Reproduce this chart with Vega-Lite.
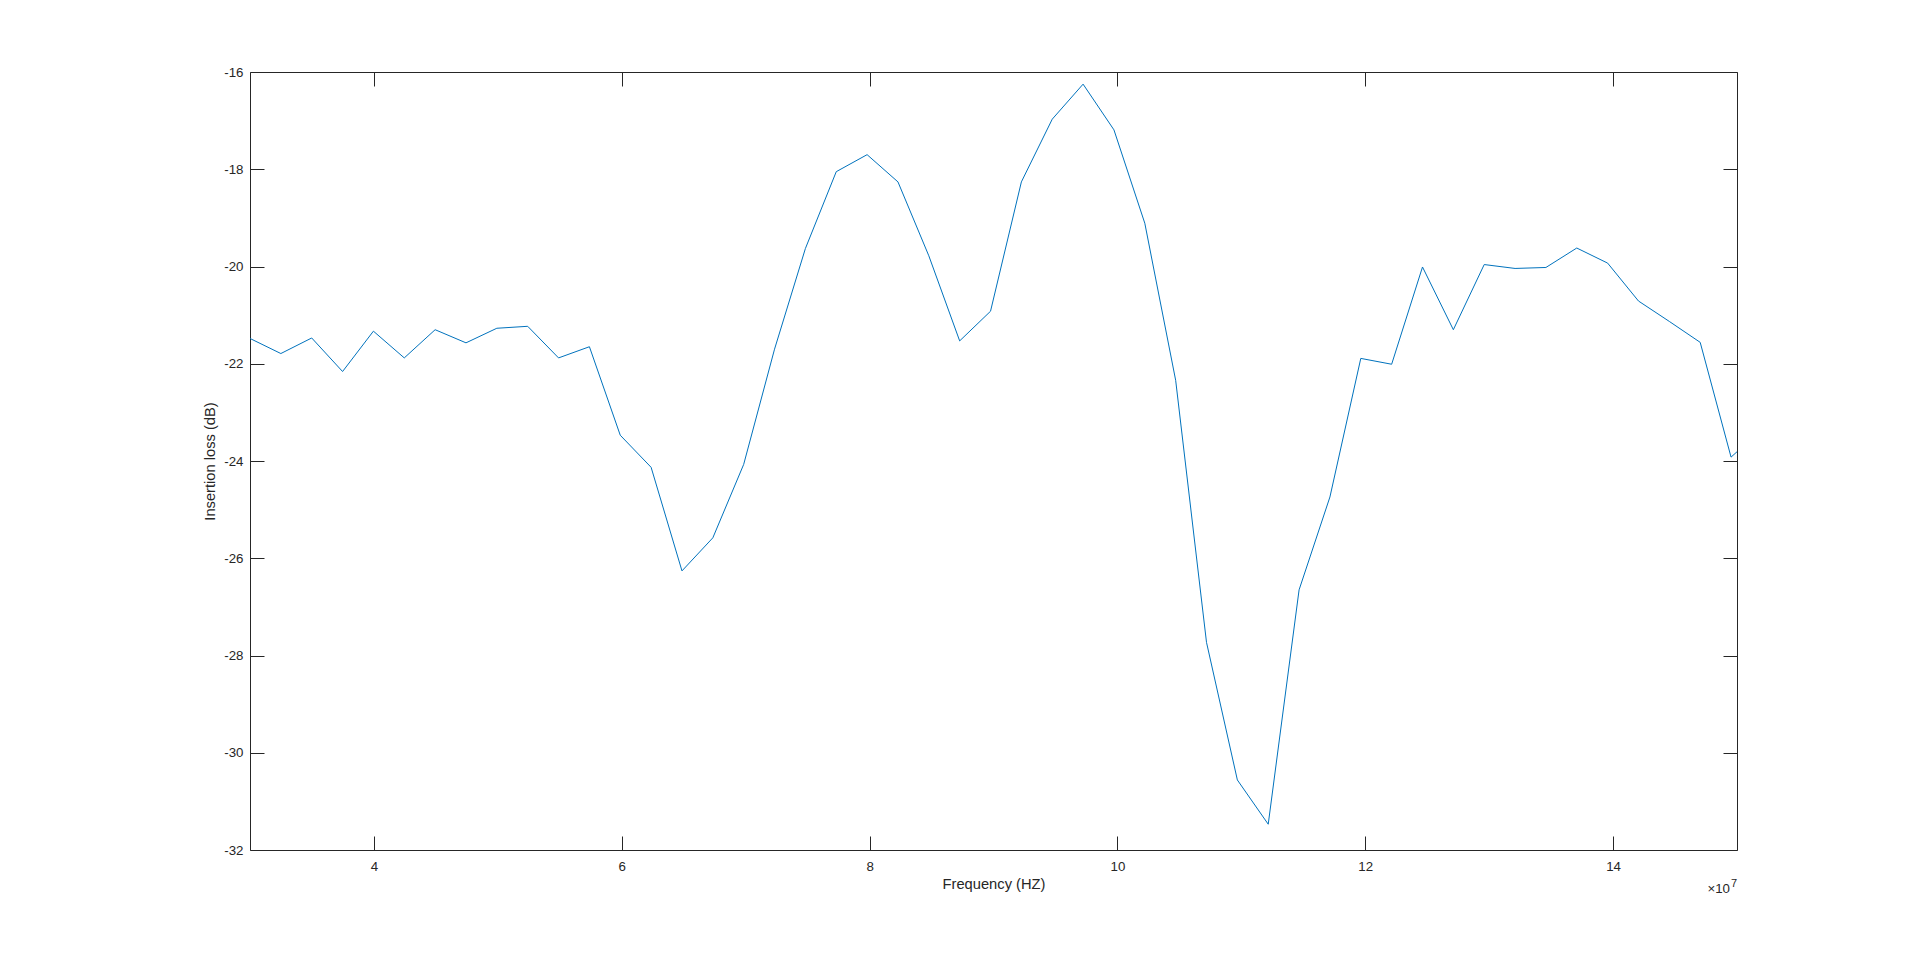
{
  "$schema": "https://vega.github.io/schema/vega-lite/v6.json",
  "autosize": "none",
  "width": 1487,
  "height": 778,
  "padding": {"left": 250, "top": 72, "right": 183, "bottom": 106},
  "background": "white",
  "config": {
    "view": {"stroke": null},
    "font": "Liberation Sans",
    "axis": {
      "grid": false,
      "domainColor": "#262626",
      "domainWidth": 1,
      "tickColor": "#262626",
      "tickWidth": 1,
      "labelColor": "#262626",
      "labelFont": "Liberation Sans",
      "labelFontSize": 13.3,
      "titleColor": "#262626",
      "titleFont": "Liberation Sans",
      "titleFontSize": 14.7,
      "titleFontWeight": "normal"
    }
  },
  "data": {
    "values": [
      {"f": 30000000, "loss": -21.48},
      {"f": 32490000, "loss": -21.79},
      {"f": 34980000, "loss": -21.47},
      {"f": 37470000, "loss": -22.16},
      {"f": 39960000, "loss": -21.33},
      {"f": 42450000, "loss": -21.88},
      {"f": 44940000, "loss": -21.30},
      {"f": 47430000, "loss": -21.57},
      {"f": 49920000, "loss": -21.27},
      {"f": 52410000, "loss": -21.23},
      {"f": 54900000, "loss": -21.88},
      {"f": 57390000, "loss": -21.65},
      {"f": 59880000, "loss": -23.47},
      {"f": 62370000, "loss": -24.13},
      {"f": 64860000, "loss": -26.26},
      {"f": 67350000, "loss": -25.58},
      {"f": 69840000, "loss": -24.07},
      {"f": 72330000, "loss": -21.70},
      {"f": 74820000, "loss": -19.63},
      {"f": 77310000, "loss": -18.05},
      {"f": 79800000, "loss": -17.70},
      {"f": 82290000, "loss": -18.26},
      {"f": 84780000, "loss": -19.78},
      {"f": 87270000, "loss": -21.53},
      {"f": 89760000, "loss": -20.92},
      {"f": 92250000, "loss": -18.26},
      {"f": 94740000, "loss": -16.97},
      {"f": 97230000, "loss": -16.25},
      {"f": 99720000, "loss": -17.19},
      {"f": 102210000, "loss": -19.11},
      {"f": 104700000, "loss": -22.34},
      {"f": 107190000, "loss": -27.73},
      {"f": 109680000, "loss": -30.56},
      {"f": 112170000, "loss": -31.47},
      {"f": 114660000, "loss": -26.65},
      {"f": 117150000, "loss": -24.74},
      {"f": 119640000, "loss": -21.89},
      {"f": 122130000, "loss": -22.01},
      {"f": 124620000, "loss": -20.01},
      {"f": 127110000, "loss": -21.30},
      {"f": 129600000, "loss": -19.96},
      {"f": 132090000, "loss": -20.04},
      {"f": 134580000, "loss": -20.02},
      {"f": 137070000, "loss": -19.62},
      {"f": 139560000, "loss": -19.93},
      {"f": 142050000, "loss": -20.71},
      {"f": 144540000, "loss": -21.13},
      {"f": 147030000, "loss": -21.56},
      {"f": 149520000, "loss": -23.92},
      {"f": 150000000, "loss": -23.81}
    ]
  },
  "resolve": {"axis": {"x": "independent", "y": "independent"}},
  "layer": [
    {
      "mark": {"type": "line", "color": "#0072BD", "strokeWidth": 1, "clip": true},
      "encoding": {
        "x": {
          "field": "f",
          "type": "quantitative",
          "scale": {"domain": [30000000, 150000000], "nice": false, "zero": false},
          "axis": {
            "orient": "bottom",
            "values": [40000000, 60000000, 80000000, 100000000, 120000000, 140000000],
            "labelExpr": "'' + round(datum.value / 10000000)",
            "tickSize": -14,
            "labelPadding": 23,
            "title": "Frequency (HZ)",
            "titlePadding": 4
          }
        },
        "y": {
          "field": "loss",
          "type": "quantitative",
          "scale": {"domain": [-32, -16], "nice": false, "zero": false},
          "axis": {
            "orient": "left",
            "values": [-32, -30, -28, -26, -24, -22, -20, -18, -16],
            "labelExpr": "'' + datum.value",
            "tickSize": -14,
            "labelPadding": 21,
            "title": "Insertion loss (dB)",
            "titlePadding": 6
          }
        }
      }
    },
    {
      "mark": {"type": "line", "opacity": 0},
      "encoding": {
        "x": {
          "field": "f",
          "type": "quantitative",
          "axis": {
            "orient": "top",
            "values": [40000000, 60000000, 80000000, 100000000, 120000000, 140000000],
            "labels": false,
            "tickSize": -14,
            "title": null
          }
        },
        "y": {
          "field": "loss",
          "type": "quantitative",
          "axis": {
            "orient": "right",
            "values": [-32, -30, -28, -26, -24, -22, -20, -18, -16],
            "labels": false,
            "tickSize": -14,
            "title": null
          }
        }
      }
    },
    {
      "data": {"values": [{"f": 150000000, "loss": -32, "t": "×10"}]},
      "mark": {"type": "text", "align": "right", "baseline": "alphabetic", "dx": -7, "dy": 43, "fontSize": 13.3, "color": "#262626", "font": "Liberation Sans"},
      "encoding": {
        "x": {"field": "f", "type": "quantitative", "axis": null},
        "y": {"field": "loss", "type": "quantitative", "axis": null},
        "text": {"field": "t"}
      }
    },
    {
      "data": {"values": [{"f": 150000000, "loss": -32, "t": "7"}]},
      "mark": {"type": "text", "align": "right", "baseline": "alphabetic", "dx": 0, "dy": 37, "fontSize": 11, "color": "#262626", "font": "Liberation Sans"},
      "encoding": {
        "x": {"field": "f", "type": "quantitative", "axis": null},
        "y": {"field": "loss", "type": "quantitative", "axis": null},
        "text": {"field": "t"}
      }
    }
  ]
}
